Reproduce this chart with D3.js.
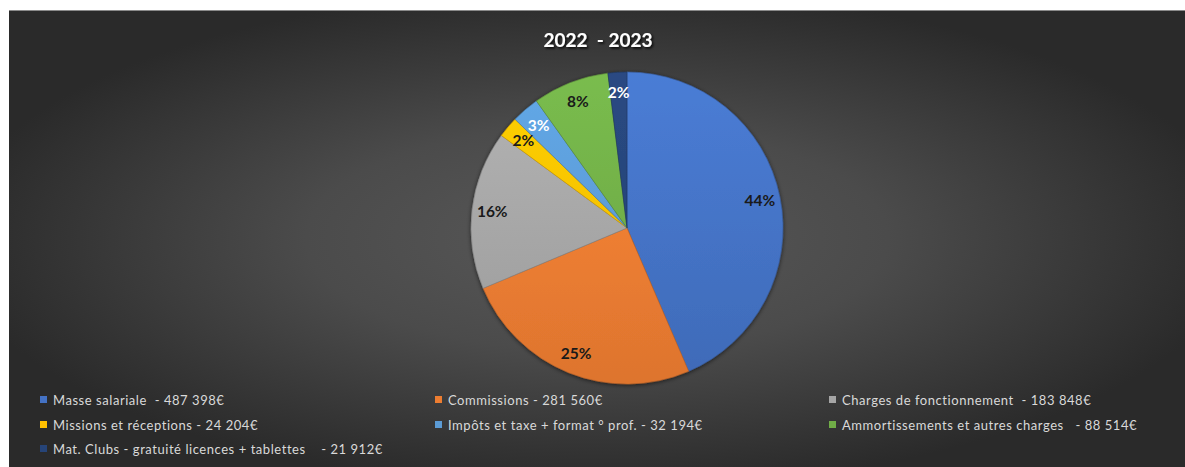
<!DOCTYPE html>
<html><head><meta charset="utf-8">
<script src="https://cdn.jsdelivr.net/npm/d3@7"></script>
<style>
html,body{margin:0;padding:0;background:#fff;}
svg{display:block;}
text{font-family:Lato,"Open Sans",sans-serif;}
</style></head>
<body>
<svg id="c" width="1185" height="467"></svg>
<script>
const title = "2022  - 2023";
const categories = ["Masse salariale ", "Commissions", "Charges de fonctionnement ", "Missions et réceptions", "Impôts et taxe + format ° prof.", "Ammortissements et autres charges  ", "Mat. Clubs - gratuité licences + tablettes   "];
const values = [487398, 281560, 183848, 24204, 32194, 88514, 21912];
const colors = ["#4472C4", "#ED7D31", "#A5A5A5", "#FFC000", "#5B9BD5", "#70AD47", "#264478"];
const labelColors = ["#1a1a1a", "#1a1a1a", "#1a1a1a", "#1a1a1a", "#ffffff", "#1a1a1a", "#ffffff"];

const svg = d3.select("#c");
const W = 1185, H = 467;
const defs = svg.append("defs");

// background
const bg = defs.append("radialGradient").attr("id", "bg")
  .attr("cx", "50%").attr("cy", "50%").attr("r", "55%")
  .attr("gradientUnits", "objectBoundingBox");
bg.append("stop").attr("offset", "0%").attr("stop-color", "#585858");
bg.append("stop").attr("offset", "45%").attr("stop-color", "#4b4b4b");
bg.append("stop").attr("offset", "100%").attr("stop-color", "#2a2a2a");

const area = {x: 9, y: 10, w: W - 9, h: H - 10};
svg.append("rect").attr("x", area.x).attr("y", area.y).attr("width", area.w).attr("height", area.h)
  .attr("fill", "url(#bg)");
svg.append("line").attr("x1", area.x).attr("x2", W).attr("y1", area.y + 0.5).attr("y2", area.y + 0.5)
  .attr("stroke", "#8a8a8a").attr("stroke-width", 1);

// slice gradients
colors.forEach((c, i) => {
  const g = defs.append("linearGradient").attr("id", "g" + i)
    .attr("gradientUnits", "userSpaceOnUse")
    .attr("x1", 0).attr("y1", -160).attr("x2", 0).attr("y2", 160);
  g.append("stop").attr("offset", "0%").attr("stop-color", d3.color(c).brighter(0.25));
  g.append("stop").attr("offset", "100%").attr("stop-color", d3.color(c).darker(0.2));
});

const shadow = defs.append("filter").attr("id", "sh").attr("x", "-20%").attr("y", "-20%").attr("width", "140%").attr("height", "140%");
shadow.append("feDropShadow").attr("dx", 0).attr("dy", 1).attr("stdDeviation", 2).attr("flood-color", "#000").attr("flood-opacity", 0.6);

const tsh = defs.append("filter").attr("id", "tsh").attr("x", "-20%").attr("y", "-40%").attr("width", "140%").attr("height", "180%");
tsh.append("feDropShadow").attr("dx", 1.5).attr("dy", 1.5).attr("stdDeviation", 1.2).attr("flood-color", "#000").attr("flood-opacity", 0.9);

// title
svg.append("text").attr("x", 598).attr("y", 47).attr("text-anchor", "middle")
  .attr("font-size", 19).attr("font-weight", 700).attr("fill", "#ffffff")
  .attr("filter", "url(#tsh)").attr("xml:space", "preserve").style("white-space", "pre")
  .text(title);

// pie
const cx = 627, cy = 228, R = 156;
const pie = d3.pie().sort(null).value(d => d)(values);
const arc = d3.arc().innerRadius(0).outerRadius(R);
const labelArc = d3.arc().innerRadius(R * 0.87).outerRadius(R * 0.87);
const total = d3.sum(values);
const pct = d3.format(".0%");

const gp = svg.append("g").attr("transform", `translate(${cx},${cy})`);
gp.append("g").attr("filter", "url(#sh)")
  .selectAll("path").data(pie).join("path")
  .attr("d", arc)
  .attr("fill", (d, i) => `url(#g${i})`)
  .attr("stroke", (d, i) => d3.color(colors[i]).darker(0.6))
  .attr("stroke-width", 0.6);

gp.selectAll("text.lbl").data(pie).join("text").attr("class", "lbl")
  .attr("transform", d => `translate(${labelArc.centroid(d)})`)
  .attr("text-anchor", "middle").attr("dy", "0.35em")
  .attr("font-size", 15.5).attr("font-weight", 700)
  .attr("fill", (d, i) => labelColors[i])
  .text(d => pct(d.value / total));

// legend
const cols = [40, 435, 829];
const rows = [400, 425, 449];
const eur = v => d3.format(",")(v).replace(/,/g, " ") + "€";
const lg = svg.append("g");
categories.forEach((c, i) => {
  const x = cols[i % 3], y = rows[Math.floor(i / 3)];
  lg.append("rect").attr("x", x).attr("y", y - 4).attr("width", 7).attr("height", 7).attr("fill", colors[i]);
  lg.append("text").attr("x", x + 13).attr("y", y).attr("dy", "0.35em")
    .attr("font-size", 13).attr("letter-spacing", 0.55).attr("fill", "#d9d9d9")
    .attr("xml:space", "preserve").style("white-space", "pre")
    .text(c + " - " + eur(values[i]));
});
</script>
</body></html>
